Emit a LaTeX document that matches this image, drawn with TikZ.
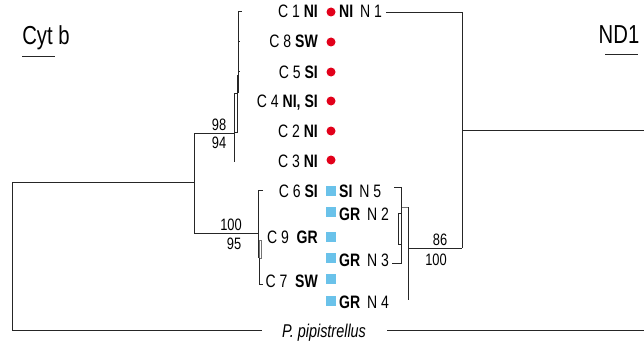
\documentclass[tikz,border=0pt]{standalone}
\usepackage{fontspec}
\setmainfont{Liberation Sans}[FakeStretch=0.78]
\definecolor{dotred}{RGB}{226,0,26}
\definecolor{sqblue}{RGB}{106,194,234}
\begin{document}
\begin{tikzpicture}[x=1pt,y=-1pt,
  br/.style={line width=0.8pt, black!85},
  grbr/.style={line width=0.8pt, black!55},
  lab/.style={inner sep=0pt, font=\fontsize{18}{18}\selectfont},
  cl/.style={lab, anchor=base east},
  nl/.style={lab, anchor=base west},
  bs/.style={inner sep=0pt, font=\fontsize{16.5}{16.5}\selectfont},
  title/.style={inner sep=0pt, font=\fontsize{26}{26}\selectfont},
  rdot/.style={circle, fill=dotred, minimum size=9pt, inner sep=0pt},
  bsq/.style={rectangle, fill=sqblue, minimum size=10pt, inner sep=0pt},
  ]
\useasboundingbox (0,0) rectangle (644,345);

% titles
\node[title] (cyt) at (46,38) {Cyt b};
\draw[br] (22,56) -- (55,56);
\node[title] (nd1) at (619,35) {ND1};
\draw[br] (605,54) -- (638,54);

% tip labels (Cyt b)
\node[cl] (c1) at (318,18) {C 1 \textbf{NI}};
\node[cl] (c8) at (318,48) {C 8 \textbf{SW}};
\node[cl] (c5) at (318,78) {C 5 \textbf{SI}};
\node[cl] (c4) at (318,107) {C 4 \textbf{NI, SI}};
\node[cl] (c2) at (318,137) {C 2 \textbf{NI}};
\node[cl] (c3) at (318,167) {C 3 \textbf{NI}};
\node[cl] (c6) at (318,197) {C 6 \textbf{SI}};
\node[cl] (c9) at (318,243) {C 9 \ \textbf{GR}};
\node[cl] (c7) at (318,287) {C 7 \ \textbf{SW}};

% tip labels (ND1)
\node[nl] (n1) at (339,18) {\textbf{NI} \,N 1};
\node[nl] (n5) at (339,197) {\textbf{SI} \,N 5};
\node[nl] (n2) at (339,220) {\textbf{GR} \,N 2};
\node[nl] (n3) at (339,266) {\textbf{GR} \,N 3};
\node[nl] (n4) at (339,308) {\textbf{GR} \,N 4};

% markers
\foreach \y/\n in {12/d1,42/d2,72/d3,101/d4,131/d5,160/d6}
  \node[rdot] (\n) at (331,\y) {};
\foreach \y/\n in {191/s1,212/s2,237/s3,258/s4,279/s5,301/s6}
  \node[bsq] (\n) at (331,\y) {};

% outgroup label
\node[lab, font=\fontsize{18.5}{18.5}\selectfont\itshape] (pp) at (324,333) {P. pipistrellus};

% ---------- Cyt b tree ----------
\coordinate (root) at (12,182);
\coordinate (rootb) at (12,330);
\coordinate (na) at (194,182);
\coordinate (nb) at (194,133);
\coordinate (nc) at (194,233);
\draw[br] (root) -- (rootb);
\draw[br] (root) -- (na);
\draw[br] (nb) -- (nc);
\draw[br] (rootb) -- (262,330);
\draw[br] (387,330) -- (644,330);
% upper clade
\draw[br] (nb) -- (234,133);
\draw[br] (234,93) -- (234,162);
\draw[br] (234,93) rectangle (237,132);
\draw[br] (238,11) -- (238,93);
\draw[line width=1.6pt, black!85] (238,75) -- (238,93);
\draw[br] (238,11) -- (242,11);
\draw[br] (238,41) -- (240,41);
\draw[br] (238,71) -- (240,71);
\node[bs, anchor=south] (b98) at (219,131) {98};
\node[bs, anchor=north] (b94) at (219,137) {94};
% lower clade
\draw[br] (nc) -- (258,233);
\draw[br] (263,190) -- (258,190) -- (258,258);
\draw[grbr] (259,240) rectangle (261,258);
\draw[br] (259,258) -- (259,284) -- (263,284);
\node[bs, anchor=south] (b100) at (231,231) {100};
\node[bs, anchor=north] (b95) at (234,238) {95};

% ---------- ND1 tree ----------
\coordinate (m1) at (462,12);
\coordinate (m2) at (462,248);
\coordinate (m3) at (462,130);
\draw[br] (386,12) -- (m1) -- (m2);
\draw[br] (m3) -- (644,130);
\draw[br] (408,248) -- (m2);
\draw[br] (408,207) -- (408,300);
\draw[grbr] (401,207) -- (408,207);
\draw[br] (394,187) -- (401,187) -- (401,263) -- (392,263);
\draw[br] (398,213) rectangle (401,244);
\node[bs, anchor=south] (b86) at (440,246) {86};
\node[bs, anchor=north] (b100b) at (436,254) {100};
\end{tikzpicture}
\end{document}
